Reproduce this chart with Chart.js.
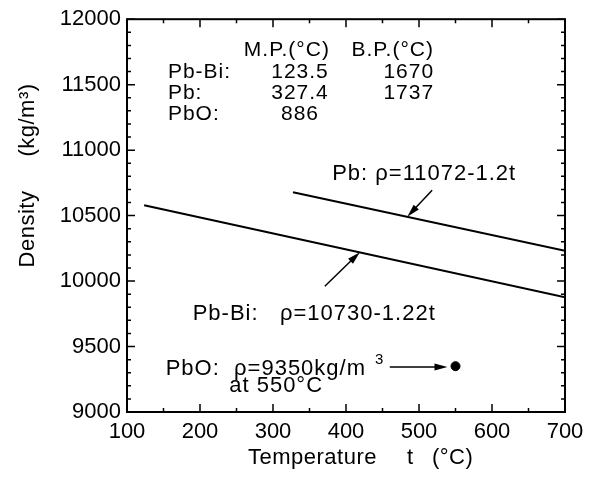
<!DOCTYPE html>
<html lang="en">
<head>
    <meta charset="UTF-8">
    <title>Density vs Temperature</title>
    <script src="https://cdn.jsdelivr.net/npm/chart.js"></script>
    <style>
        body {
            margin: 0;
            background-color: #ffffff;
        }
        #wrap {
            width: 593px;
            height: 480px;
        }
    </style>
</head>
<body>
    <div id="wrap"><canvas id="densityChart"></canvas></div>

    <script>
        // Data
        const xTicks = [100, 200, 300, 400, 500, 600, 700];
        const yTicks = [9000, 9500, 10000, 10500, 11000, 11500, 12000];

        // Pb: rho = 11072 - 1.2t (from melting point)
        const pbTemp = [327.4, 700];
        const pbDensity = [10679, 10232];

        // Pb-Bi: rho = 10730 - 1.22t
        const pbBiTemp = [123.5, 700];
        const pbBiDensity = [10579, 9876];

        // PbO single point
        const pboTemp = [550];
        const pboDensity = [9350];

        // table of melting / boiling points
        const tableHeaders = ["M.P.(°C)", "B.P.(°C)"];
        const tableRows = ["Pb-Bi:", "Pb:", "PbO:"];
        const meltingPoints = ["123.5", "327.4", "886"];
        const boilingPoints = ["1670", "1737", ""];

        // labels placed in data units: [text, t, rho]
        const labels = [
            ["Pb: \u03c1=11072-1.2t", 381, 10821],
            ["Pb-Bi:   \u03c1=10730-1.22t", 190, 9750],
            ["PbO:  \u03c1=9350kg/m", 153, 9332],
            ["at 550°C", 240, 9196]
        ];
        // arrows: [t1, rho1, t2, rho2], head at the second point
        const arrows = [
            [518, 10693, 484, 10492],
            [371, 9960, 419, 10220],
            [460, 9343, 539, 9343]
        ];

        const FONT = "'Liberation Sans', Arial, sans-serif";

        const pts = (xs, ys) => xs.map((x, i) => ({ x: x, y: ys[i] }));

        // box, inward ticks, titles and notes
        const framePlugin = {
            id: "frame",
            beforeDatasetsDraw(chart) {
                const ctx = chart.ctx;
                const a = chart.chartArea;
                const xs = chart.scales.x, ys = chart.scales.y;
                ctx.save();
                ctx.strokeStyle = "#000";
                ctx.lineWidth = 1.5;
                ctx.beginPath();
                // minor ticks
                for (let v = 150; v < 700; v += 100) {
                    const px = xs.getPixelForValue(v);
                    ctx.moveTo(px, a.bottom); ctx.lineTo(px, a.bottom - 4);
                    ctx.moveTo(px, a.top); ctx.lineTo(px, a.top + 4);
                }
                for (let v = 9100; v < 12000; v += 100) {
                    if (v % 500 === 0) continue;
                    const py = ys.getPixelForValue(v);
                    ctx.moveTo(a.left, py); ctx.lineTo(a.left + 4, py);
                    ctx.moveTo(a.right, py); ctx.lineTo(a.right - 4, py);
                }
                // major ticks
                xTicks.forEach(v => {
                    const px = xs.getPixelForValue(v);
                    ctx.moveTo(px, a.bottom); ctx.lineTo(px, a.bottom - 8);
                    ctx.moveTo(px, a.top); ctx.lineTo(px, a.top + 8);
                });
                yTicks.forEach(v => {
                    const py = ys.getPixelForValue(v);
                    ctx.moveTo(a.left, py); ctx.lineTo(a.left + 8, py);
                    ctx.moveTo(a.right, py); ctx.lineTo(a.right - 8, py);
                });
                ctx.stroke();
                ctx.lineWidth = 2;
                ctx.strokeRect(a.left, a.top, a.right - a.left, a.bottom - a.top);
                ctx.restore();
            },
            afterDatasetsDraw(chart) {
                const ctx = chart.ctx;
                const xs = chart.scales.x, ys = chart.scales.y;
                const X = v => xs.getPixelForValue(v);
                const Y = v => ys.getPixelForValue(v);
                ctx.save();
                ctx.fillStyle = "#000";
                ctx.strokeStyle = "#000";
                ctx.textBaseline = "middle";
                ctx.font = "21px " + FONT;

                // table
                ctx.textAlign = "center";
                ctx.letterSpacing = "1px";
                ctx.fillText(tableHeaders[0], X(319), Y(11766));
                ctx.fillText(tableHeaders[1], X(464), Y(11766));
                const rowY = [11592, 11433, 11275];
                tableRows.forEach((r, i) => {
                    ctx.textAlign = "left";
                    ctx.fillText(r, X(156), Y(rowY[i]));
                    ctx.textAlign = "center";
                    ctx.fillText(meltingPoints[i], X(337), Y(rowY[i]));
                    if (boilingPoints[i]) ctx.fillText(boilingPoints[i], X(486), Y(rowY[i]));
                });

                // curve labels
                ctx.font = "22px " + FONT;
                ctx.textAlign = "left";
                labels.forEach(l => ctx.fillText(l[0], X(l[1]), Y(l[2])));
                // superscript 3 after kg/m
                const pbo = labels[2];
                const w = ctx.measureText(pbo[0]).width;
                ctx.font = "15px " + FONT;
                ctx.fillText("3", X(pbo[1]) + w + 9, Y(pbo[2]) - 9);

                // arrows
                ctx.lineWidth = 1.5;
                arrows.forEach(r => {
                    const x1 = X(r[0]), y1 = Y(r[1]), x2 = X(r[2]), y2 = Y(r[3]);
                    const ang = Math.atan2(y2 - y1, x2 - x1);
                    ctx.beginPath();
                    ctx.moveTo(x1, y1);
                    ctx.lineTo(x2 - 8 * Math.cos(ang), y2 - 8 * Math.sin(ang));
                    ctx.stroke();
                    ctx.beginPath();
                    ctx.moveTo(x2, y2);
                    ctx.lineTo(x2 - 13 * Math.cos(ang) + 3.5 * Math.sin(ang), y2 - 13 * Math.sin(ang) - 3.5 * Math.cos(ang));
                    ctx.lineTo(x2 - 13 * Math.cos(ang) - 3.5 * Math.sin(ang), y2 - 13 * Math.sin(ang) + 3.5 * Math.cos(ang));
                    ctx.closePath();
                    ctx.fill();
                });

                // axis titles
                ctx.font = "22px " + FONT;
                ctx.letterSpacing = "0.5px";
                ctx.textAlign = "left";
                ctx.fillText("Temperature", 248, 458);
                ctx.fillText("t", 407, 458);
                ctx.fillText("(°C)", 432, 458);
                ctx.translate(28, 0);
                ctx.rotate(-Math.PI / 2);
                ctx.textAlign = "center";
                ctx.fillText("Density", -229, 0);
                ctx.fillText("(kg/m\u00b3)", -120, 0);
                ctx.restore();
            }
        };

        const ctx = document.getElementById("densityChart").getContext("2d");
        new Chart(ctx, {
            type: "scatter",
            data: {
                datasets: [
                    {
                        label: "Pb",
                        data: pts(pbTemp, pbDensity),
                        showLine: true,
                        borderColor: "#000",
                        borderWidth: 2,
                        pointRadius: 0
                    },
                    {
                        label: "Pb-Bi",
                        data: pts(pbBiTemp, pbBiDensity),
                        showLine: true,
                        borderColor: "#000",
                        borderWidth: 2,
                        pointRadius: 0
                    },
                    {
                        label: "PbO",
                        data: pts(pboTemp, pboDensity),
                        backgroundColor: "#000",
                        borderColor: "#000",
                        pointRadius: 4.5
                    }
                ]
            },
            options: {
                responsive: true,
                maintainAspectRatio: false,
                animation: false,
                layout: { padding: { left: 0, right: 28, top: 15, bottom: 0 } },
                plugins: {
                    legend: { display: false },
                    tooltip: { enabled: false }
                },
                scales: {
                    x: {
                        type: "linear",
                        min: 100,
                        max: 700,
                        afterBuildTicks: axis => { axis.ticks = xTicks.map(v => ({ value: v })); },
                        afterFit: axis => { axis.height = 68; },
                        grid: { display: false, drawTicks: false },
                        border: { display: false },
                        ticks: {
                            padding: 7,
                            color: "#000",
                            font: { size: 22, family: FONT },
                            callback: v => String(v)
                        }
                    },
                    y: {
                        type: "linear",
                        min: 9000,
                        max: 12000,
                        afterBuildTicks: axis => { axis.ticks = yTicks.map(v => ({ value: v })); },
                        afterFit: axis => { axis.width = 127; },
                        grid: { display: false, drawTicks: false },
                        border: { display: false },
                        ticks: {
                            padding: 6,
                            color: "#000",
                            font: { size: 22, family: FONT },
                            callback: v => String(v)
                        }
                    }
                }
            },
            plugins: [framePlugin]
        });
    </script>
</body>
</html>
